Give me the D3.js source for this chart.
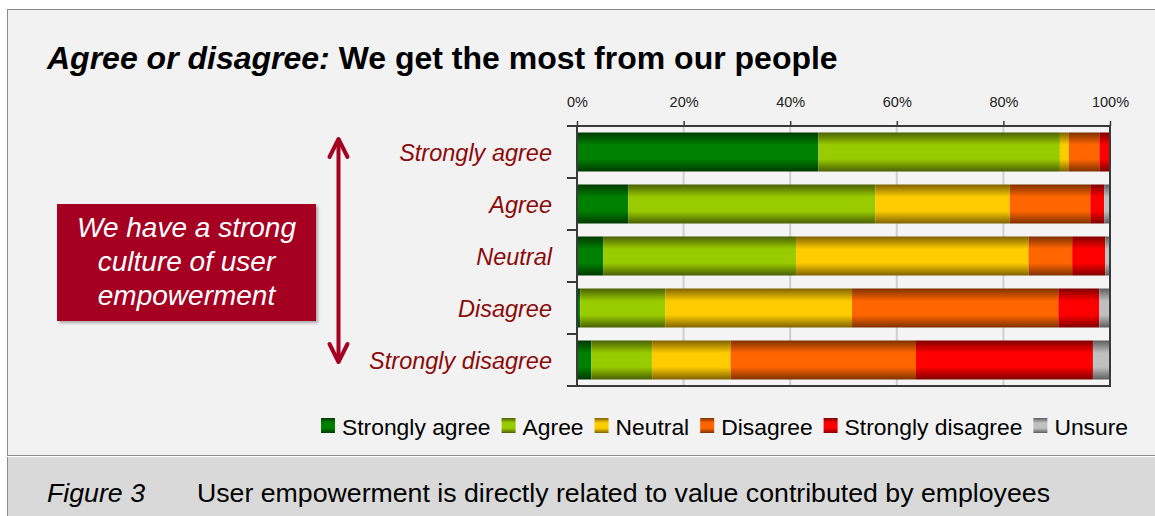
<!DOCTYPE html>
<html>
<head>
<meta charset="utf-8">
<script src="https://cdn.jsdelivr.net/npm/d3@7"></script>
<style>
  html, body { margin: 0; padding: 0; background: #ffffff; }
  svg { display: block; font-family: "Liberation Sans", Arial, Helvetica, sans-serif; }
</style>
</head>
<body>
<svg id="chart" width="1155" height="516"></svg>
<script>
// Survey responses: rows are answers to "We have a strong culture of user empowerment",
// stacked segments are answers to "We get the most from our people" (percent of row).
const categories = ["Strongly agree", "Agree", "Neutral", "Disagree", "Strongly disagree"];
const seriesNames = ["Strongly agree", "Agree", "Neutral", "Disagree", "Strongly disagree", "Unsure"];
const stronglyAgree    = [45.3,  9.6,  4.9,  0.6,  2.7];
const agree            = [45.3, 46.4, 36.2, 16.0, 11.4];
const neutral          = [ 1.7, 25.2, 43.6, 35.0, 14.7];
const disagree         = [ 5.7, 15.1,  8.2, 38.7, 34.8];
const stronglyDisagree = [ 2.0,  2.6,  6.2,  7.7, 33.2];
const unsure           = [ 0.0,  1.1,  0.9,  2.0,  3.2];
const tickValues = [0, 20, 40, 60, 80, 100];
const tickLabels = ["0%", "20%", "40%", "60%", "80%", "100%"];

// bright centre / dark edge for each series gradient
const seriesColors = [
  ["#008000", "#003a00"],
  ["#99cc00", "#4a6000"],
  ["#ffcc00", "#7f6200"],
  ["#ff6600", "#7f3000"],
  ["#ff0000", "#7f0000"],
  ["#c0c0c0", "#5e5e5e"]
];

const valuesBySeries = [stronglyAgree, agree, neutral, disagree, stronglyDisagree, unsure];
const rows = categories.map((c, i) => {
  const r = { category: c };
  seriesNames.forEach((s, j) => { r[s] = valuesBySeries[j][i]; });
  return r;
});

const svg = d3.select("#chart");
const darkRed = "#a50021";

// gradients
const defs = svg.append("defs");
seriesColors.forEach((c, i) => {
  const g = defs.append("linearGradient")
    .attr("id", "grad" + i).attr("x1", 0).attr("y1", 0).attr("x2", 0).attr("y2", 1);
  g.append("stop").attr("offset", "0%").attr("stop-color", c[1]);
  g.append("stop").attr("offset", "32%").attr("stop-color", c[0]);
  g.append("stop").attr("offset", "68%").attr("stop-color", c[0]);
  g.append("stop").attr("offset", "100%").attr("stop-color", c[1]);
});
const shadow = defs.append("filter").attr("id", "boxShadow")
  .attr("x", "-10%").attr("y", "-10%").attr("width", "130%").attr("height", "130%");
shadow.append("feDropShadow").attr("dx", 2).attr("dy", 2).attr("stdDeviation", 1.5)
  .attr("flood-color", "#000").attr("flood-opacity", 0.3);

// panel and caption band
svg.append("rect").attr("x", 7.5).attr("y", 9.5).attr("width", 1160).attr("height", 446)
  .attr("fill", "#f2f2f2").attr("stroke", "#8a8a8a").attr("stroke-width", 1);
svg.append("rect").attr("x", 7.5).attr("y", 457).attr("width", 1160).attr("height", 70)
  .attr("fill", "#d9d9d9");
svg.append("line").attr("x1", 7.5).attr("x2", 7.5).attr("y1", 457).attr("y2", 516)
  .attr("stroke", "#8a8a8a").attr("stroke-width", 1);

// title
const title = svg.append("text").attr("x", 47).attr("y", 69)
  .attr("font-size", 32).attr("font-weight", "bold").attr("fill", "#000");
title.append("tspan").attr("font-style", "italic").text("Agree or disagree:");
title.append("tspan").text(" We get the most from our people");

// scales
const x = d3.scaleLinear().domain([0, 100]).range([577, 1110]);
const y = d3.scaleBand().domain(categories).range([126, 386])
  .paddingInner(0.25).paddingOuter(0.125);

// plot area background and gridlines
svg.append("rect").attr("x", x(0)).attr("y", 126).attr("width", x(100) - x(0)).attr("height", 260)
  .attr("fill", "#f4f4f4");
svg.append("g").selectAll("line").data(tickValues.slice(1, -1)).join("line")
  .attr("x1", d => x(d)).attr("x2", d => x(d)).attr("y1", 126).attr("y2", 386)
  .attr("stroke", "#cfcfcf").attr("stroke-width", 2);

// stacked bars
const stack = d3.stack().keys(seriesNames);
const stacked = stack(rows);
svg.append("g").selectAll("g").data(stacked).join("g")
  .attr("fill", (d, i) => `url(#grad${i})`)
  .selectAll("rect").data(d => d).join("rect")
  .attr("x", d => x(d[0]))
  .attr("y", d => y(d.data.category))
  .attr("width", d => Math.max(0, x(d[1]) - x(d[0])))
  .attr("height", y.bandwidth());

// top axis (percent)
const xAxis = d3.axisTop(x).tickValues(tickValues)
  .tickFormat((d, i) => tickLabels[i]).tickSize(5).tickPadding(14);
const gx = svg.append("g").attr("transform", "translate(0,126)").call(xAxis);
gx.select(".domain").remove();
gx.selectAll(".tick line").attr("stroke", "#3a3a3a").attr("stroke-width", 1.5);
gx.selectAll(".tick text").attr("font-size", 14.5).attr("fill", "#222")
  .attr("font-family", "Liberation Sans, Arial, sans-serif");

// plot frame
svg.append("rect").attr("x", x(0)).attr("y", 126).attr("width", x(100) - x(0)).attr("height", 260)
  .attr("fill", "none").attr("stroke", "#3a3a3a").attr("stroke-width", 2);
svg.append("line").attr("x1", 567).attr("x2", x(0)).attr("y1", 126).attr("y2", 126)
  .attr("stroke", "#3a3a3a").attr("stroke-width", 2);

// category boundary ticks on the left axis
const step = y.step();
const boundaries = d3.range(categories.length + 1).map(i => 126 + i * step);
svg.append("g").selectAll("line").data(boundaries).join("line")
  .attr("x1", 567).attr("x2", x(0)).attr("y1", d => d).attr("y2", d => d)
  .attr("stroke", "#3a3a3a").attr("stroke-width", 2);

// category labels
svg.append("g").selectAll("text").data(categories).join("text")
  .attr("x", 552).attr("y", d => y(d) + y.bandwidth() / 2 + 8.5)
  .attr("text-anchor", "end").attr("font-size", 23.5).attr("font-style", "italic")
  .attr("fill", "#8b0a0a").text(d => d);

// legend
const legend = svg.append("g");
let lx = 321;
seriesNames.forEach((s, i) => {
  legend.append("rect").attr("x", lx).attr("y", 418).attr("width", 14).attr("height", 15)
    .attr("fill", `url(#grad${i})`);
  const t = legend.append("text").attr("x", lx + 21).attr("y", 434.5)
    .attr("font-size", 22.85).attr("fill", "#000").text(s);
  lx += 21 + t.node().getComputedTextLength() + 11;
});

// annotation box
svg.append("rect").attr("x", 57).attr("y", 204).attr("width", 259).attr("height", 117)
  .attr("fill", darkRed).attr("filter", "url(#boxShadow)");
const boxLines = ["We have a strong", "culture of user", "empowerment"];
svg.append("g").selectAll("text").data(boxLines).join("text")
  .attr("x", 186.5).attr("y", (d, i) => 236.5 + i * 34.3)
  .attr("text-anchor", "middle").attr("font-size", 28).attr("font-style", "italic")
  .attr("fill", "#ffffff").text(d => d);

// double-headed arrow
const arrow = svg.append("g").attr("stroke", darkRed).attr("stroke-width", 4)
  .attr("stroke-linecap", "round").attr("stroke-linejoin", "round").attr("fill", "none");
arrow.append("line").attr("x1", 338.5).attr("x2", 338.5).attr("y1", 140).attr("y2", 361);
arrow.append("path").attr("d", "M329.5,157 L338.5,139 L347.5,157");
arrow.append("path").attr("d", "M329.5,344 L338.5,362 L347.5,344");

// caption
svg.append("text").attr("x", 47).attr("y", 502).attr("font-size", 25).attr("font-style", "italic")
  .attr("textLength", 98).attr("lengthAdjust", "spacingAndGlyphs").attr("fill", "#000")
  .text("Figure 3");
svg.append("text").attr("x", 197).attr("y", 502).attr("font-size", 25)
  .attr("textLength", 853).attr("lengthAdjust", "spacingAndGlyphs").attr("fill", "#000")
  .text("User empowerment is directly related to value contributed by employees");
</script>
</body>
</html>
